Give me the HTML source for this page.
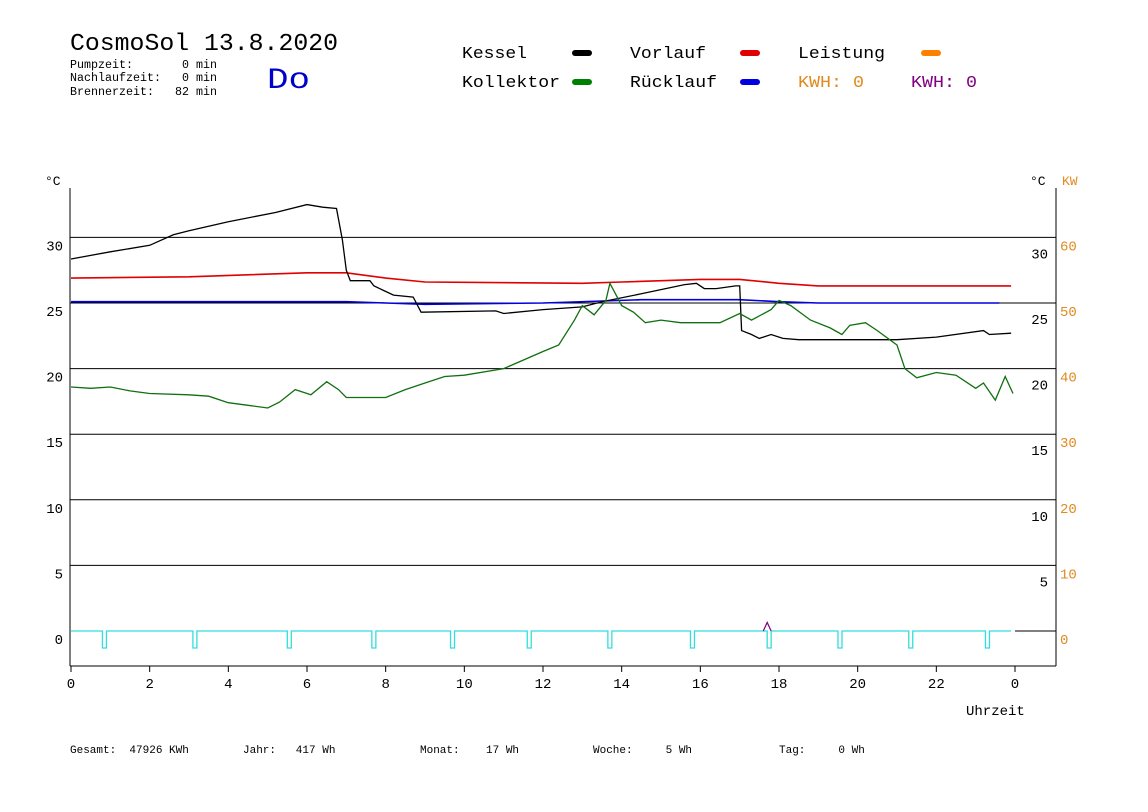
<!DOCTYPE html>
<html><head><meta charset="utf-8"><style>
html,body{margin:0;padding:0;background:#fff;}
svg{display:block;font-family:"Liberation Mono",monospace;}
svg text{white-space:pre;}
</style></head><body>
<svg id="chart" width="1148" height="812" viewBox="0 0 1148 812" xmlns="http://www.w3.org/2000/svg" xml:space="preserve">
<g>
<text x="70" y="50" font-size="24" textLength="268" lengthAdjust="spacingAndGlyphs">CosmoSol 13.8.2020</text>
<text x="70" y="68" font-size="11.5" textLength="147" lengthAdjust="spacingAndGlyphs">Pumpzeit:       0 min</text>
<text x="70" y="81" font-size="11.5" textLength="147" lengthAdjust="spacingAndGlyphs">Nachlaufzeit:   0 min</text>
<text x="70" y="95" font-size="11.5" textLength="147" lengthAdjust="spacingAndGlyphs">Brennerzeit:   82 min</text>
<text x="267" y="88" font-size="30" fill="#0000cc" textLength="43" lengthAdjust="spacingAndGlyphs">Do</text>
</g>
<g font-size="17">
<text x="462" y="58" textLength="65" lengthAdjust="spacingAndGlyphs">Kessel</text>
<line x1="575" y1="53" x2="589" y2="53" stroke="#000" stroke-width="6" stroke-linecap="round"/>
<text x="630" y="58" textLength="76" lengthAdjust="spacingAndGlyphs">Vorlauf</text>
<line x1="743" y1="53" x2="757" y2="53" stroke="#e00000" stroke-width="6" stroke-linecap="round"/>
<text x="798" y="58" textLength="87" lengthAdjust="spacingAndGlyphs">Leistung</text>
<line x1="924" y1="53" x2="938" y2="53" stroke="#ff8000" stroke-width="6" stroke-linecap="round"/>
<text x="462" y="87" textLength="98" lengthAdjust="spacingAndGlyphs">Kollektor</text>
<line x1="575" y1="82" x2="589" y2="82" stroke="#008000" stroke-width="6" stroke-linecap="round"/>
<text x="630" y="87" textLength="87" lengthAdjust="spacingAndGlyphs">Rücklauf</text>
<line x1="743" y1="82" x2="757" y2="82" stroke="#0000e0" stroke-width="6" stroke-linecap="round"/>
<text x="798" y="87" fill="#e08a20" textLength="66" lengthAdjust="spacingAndGlyphs">KWH: 0</text>
<text x="911" y="87" fill="#800080" textLength="66" lengthAdjust="spacingAndGlyphs">KWH: 0</text>
</g>
<g id="plot"></g>
<g font-size="11">
<text x="70" y="753">Gesamt:  47926 KWh</text>
<text x="243" y="753">Jahr:   417 Wh</text>
<text x="420" y="753">Monat:    17 Wh</text>
<text x="593" y="753">Woche:     5 Wh</text>
<text x="779" y="753">Tag:     0 Wh</text>
</g>
</svg>
<script>
const tempTicks = [0,5,10,15,20,25,30];
const kwTicks = [0,10,20,30,40,50,60];
const hourTicks = [0,2,4,6,8,10,12,14,16,18,20,22,24];
const hourLabels = ["0","2","4","6","8","10","12","14","16","18","20","22","0"];
const kesselH = [0,1,2,2.6,3,4,5.2,6,6.4,6.75,6.9,7.0,7.1,7.6,7.7,8.2,8.7,8.9,10.8,11,12,13,13.5,14.5,15.6,15.9,16.1,16.4,16.9,17.0,17.05,17.3,17.5,17.8,18.1,18.5,20,21,22,23.2,23.35,23.9];
const kesselT = [28.35,28.9,29.4,30.2,30.5,31.2,31.9,32.5,32.3,32.2,29.8,27.5,26.7,26.7,26.3,25.6,25.45,24.3,24.4,24.2,24.5,24.7,25.1,25.7,26.4,26.5,26.1,26.1,26.3,26.3,22.9,22.6,22.3,22.6,22.3,22.2,22.2,22.2,22.4,22.9,22.6,22.7];
const vorlaufH = [0,3,6,7,8,9,13,14,16,17,18,19,23.9];
const vorlaufT = [26.9,27.0,27.3,27.3,26.9,26.6,26.5,26.6,26.8,26.8,26.5,26.3,26.3];
const ruecklaufH = [0,7,8,9,12,14.5,17,18,19,23.6];
const ruecklaufT = [25.1,25.1,25.0,24.9,25.0,25.25,25.25,25.1,25.0,25.0];
const kollektorH = [0,0.5,1,1.5,2,3,3.5,4,4.5,5,5.3,5.7,6.1,6.5,6.8,7,8,8.5,9,9.5,10,11,12,12.4,12.8,13.0,13.3,13.6,13.7,14,14.3,14.6,15,15.5,16,16.5,17,17.3,17.8,18,18.3,18.8,19.3,19.6,19.8,20.2,20.5,21,21.2,21.5,22,22.5,23,23.2,23.5,23.75,23.95];
const kollektorT = [18.6,18.5,18.6,18.3,18.1,18.0,17.9,17.4,17.2,17.0,17.45,18.4,18.0,19.0,18.4,17.8,17.8,18.4,18.9,19.4,19.5,20.0,21.3,21.8,23.7,24.8,24.1,25.2,26.5,24.8,24.3,23.5,23.7,23.5,23.5,23.5,24.2,23.7,24.5,25.2,24.8,23.7,23.1,22.6,23.3,23.5,22.9,21.8,20.0,19.3,19.7,19.5,18.5,18.9,17.6,19.4,18.1];
const pumpHours = [0.85,3.15,5.55,7.7,9.7,11.65,13.7,15.8,17.75,19.55,21.35,23.3];
const leistungH = [17.6,17.7,17.8];
const leistungKW = [0,1.3,0];

const X0=71, XPH=(1015-71)/24, Y0=631, YPD=13.12;
const x = h => X0 + h*XPH;
const y = t => Y0 - t*YPD;
const yKW = k => Y0 - k*YPD/2;
const NS="http://www.w3.org/2000/svg";
const plot=document.getElementById('plot');
function mk(tag, attrs){const e=document.createElementNS(NS,tag);for(const k in attrs)e.setAttribute(k,attrs[k]);plot.appendChild(e);return e;}
tempTicks.forEach(t=>{
  if(t>0){const g=mk('line',{x1:70,x2:1056,y1:y(t),y2:y(t),stroke:'#000','stroke-width':1});
  
  }
  const l=mk('text',{x:63,y:y(t)+13,'font-size':14,'text-anchor':'end'});l.textContent=t;
  
  
  if(t>0){const r=mk('text',{x:1048,y:y(t)+21,'font-size':14,'text-anchor':'end'});r.textContent=t;
  
  }
});
kwTicks.forEach(k=>{
  const l=mk('text',{x:1060,y:yKW(k)+13,'font-size':14,fill:'#e08a20'});l.textContent=k;
  
  
});
const ax=[[70,188,70,666],[1056,188,1056,666],[70,666,1056,666]];
ax.forEach(a=>{const e=mk('line',{x1:a[0],y1:a[1],x2:a[2],y2:a[3],stroke:'#000','stroke-width':1});

});
[['°C',45,185,'#000'],['°C',1030,185,'#000'],['KW',1062,185,'#e08a20']].forEach(u=>{
  const e=mk('text',{x:u[1],y:u[2],'font-size':13,fill:u[3]});e.textContent=u[0];
  
  });
hourTicks.forEach((h,i)=>{
  const t=mk('line',{x1:x(h),x2:x(h),y1:666,y2:672,stroke:'#000'});
  
  
  const l=mk('text',{x:x(h),y:688,'font-size':14,'text-anchor':'middle'});l.textContent=hourLabels[i];
  
  
});
const xt=mk('text',{x:966,y:715,'font-size':14});xt.textContent='Uhrzeit';


const bl=mk('line',{x1:x(24),x2:1056,y1:Y0,y2:Y0,stroke:'#000'});


let d='M'+x(0)+' '+Y0;
pumpHours.forEach(h=>{const a=x(h)-2,b=x(h)+2;d+=` L${a} ${Y0} L${a} 648 L${b} 648 L${b} ${Y0}`;});
d+=` L${x(23.9)} ${Y0}`;
const pp=mk('path',{d:d,fill:'none',stroke:'#33dddd','stroke-width':1.3});


const lp=mk('polyline',{points:leistungH.map((h,i)=>x(h)+','+yKW(leistungKW[i])).join(' '),fill:'none',stroke:'#800080','stroke-width':1.2});


function series(H,T,color,name,w){
  const p=mk('polyline',{points:H.map((h,i)=>x(h).toFixed(1)+','+y(T[i]).toFixed(1)).join(' '),fill:'none',stroke:color,'stroke-width':w});
  
  
}
series(vorlaufH,vorlaufT,'#e00000','vorlauf-series',1.6);
series(ruecklaufH,ruecklaufT,'#0000e0','ruecklauf-series',1.6);
series(kesselH,kesselT,'#000','kessel-series',1.3);
series(kollektorH,kollektorT,'#107010','kollektor-series',1.3);
</script>
</body></html>
